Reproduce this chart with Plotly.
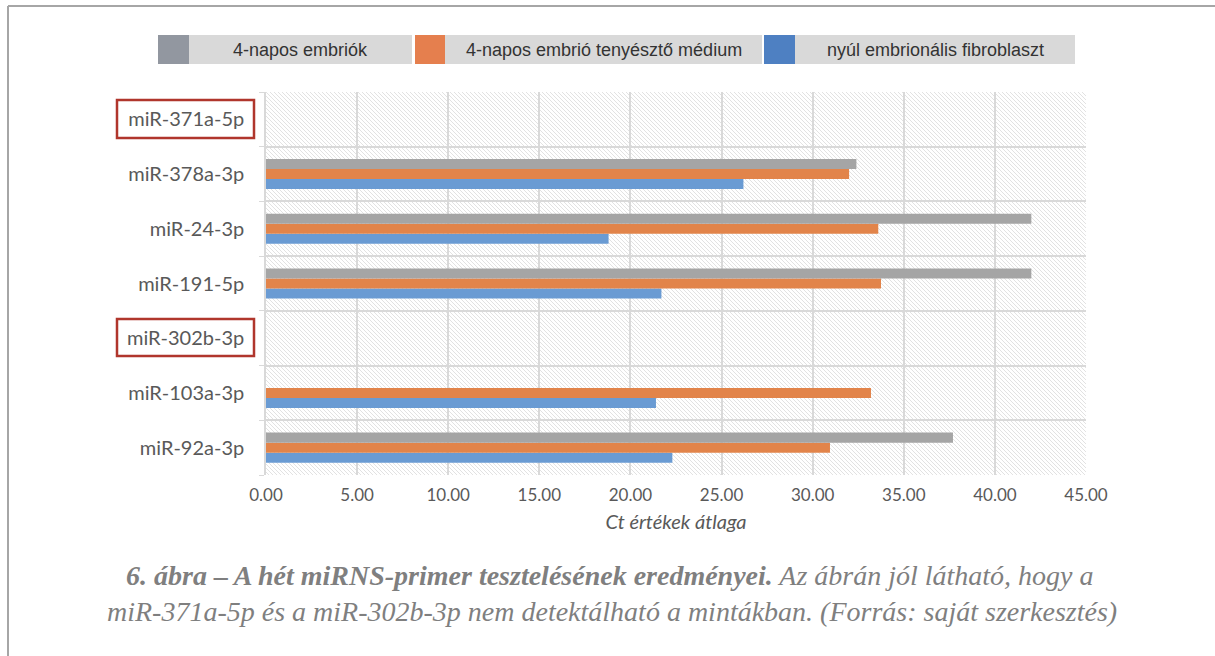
import base64
import plotly.graph_objects as go

# Primers, listed from the bottom row of the chart to the top row
primers = ["miR-92a-3p", "miR-103a-3p", "miR-302b-3p", "miR-191-5p",
           "miR-24-3p", "miR-378a-3p", "miR-371a-5p"]
not_detected = ["miR-371a-5p", "miR-302b-3p"]

series_names = ["4-napos embriók", "4-napos embrió tenyésztő médium",
                "nyúl embrionális fibroblaszt"]

# Mean Ct values per primer (None = not detected)
ct_embryo = [37.7, None, None, 42.0, 42.0, 32.4, None]
ct_medium = [30.95, 33.2, None, 33.75, 33.6, 32.0, None]
ct_fibroblast = [22.3, 21.4, None, 21.7, 18.8, 26.2, None]

x_ticks = [0, 5, 10, 15, 20, 25, 30, 35, 40, 45]
x_title = "Ct értékek átlaga"
caption_bold = "6. ábra – A hét miRNS-primer tesztelésének eredményei."
caption_rest1 = " Az ábrán jól látható, hogy a"
caption_line2 = ("miR-371a-5p és a miR-302b-3p nem detektálható a mintákban. "
                 "(Forrás: saját szerkesztés)")

W, H = 1215, 656
L, R, T, B = 266, 1086, 92, 475   # plot area in pixels

bar_colors = {"embryo": "#A5A5A5", "medium": "#E2844A", "fibro": "#6A9BD3"}
legend_colors = ["#9297A0", "#E57F4E", "#4E80C2"]


def px(x):
    return (x - L) / (R - L)


def py(y):
    return (B - y) / (B - T)


fig = go.Figure()
# blue drawn first so it sits at the bottom of each group, gray on top
for vals, key, name in [(ct_fibroblast, "fibro", series_names[2]),
                        (ct_medium, "medium", series_names[1]),
                        (ct_embryo, "embryo", series_names[0])]:
    fig.add_trace(go.Bar(
        y=primers, x=vals, orientation="h", name=name,
        marker=dict(color=bar_colors[key], line=dict(width=0)),
        showlegend=False,
    ))

# hatched plot background
pw, ph = R - L, B - T
svg = (f'<svg xmlns="http://www.w3.org/2000/svg" width="{pw}" height="{ph}">'
       '<defs><pattern id="h" patternUnits="userSpaceOnUse" width="4" height="4">'
       '<path d="M-1,-1 L5,5 M-1,3 L1,5 M3,-1 L5,1" stroke="#E2E2E2" stroke-width="1"/>'
       '</pattern></defs>'
       f'<rect width="{pw}" height="{ph}" fill="white"/>'
       f'<rect width="{pw}" height="{ph}" fill="url(#h)"/></svg>')
src = "data:image/svg+xml;base64," + base64.b64encode(svg.encode()).decode()
fig.add_layout_image(dict(source=src, xref="paper", yref="paper", x=0, y=1,
                          sizex=1, sizey=1, xanchor="left", yanchor="top",
                          sizing="stretch", layer="below"))

shapes = []
annotations = []

# custom legend: coloured square + grey label box
legend_boxes = [(158, 189, 412), (415, 445, 762), (764, 795, 1075)]
for (x0, x1, x2), col, name in zip(legend_boxes, legend_colors, series_names):
    shapes.append(dict(type="rect", xref="paper", yref="paper",
                       x0=px(x0), x1=px(x1), y0=py(64), y1=py(35),
                       fillcolor=col, line=dict(width=0)))
    shapes.append(dict(type="rect", xref="paper", yref="paper",
                       x0=px(x1), x1=px(x2), y0=py(64), y1=py(35),
                       fillcolor="#D9D9D9", line=dict(width=0)))
    annotations.append(dict(text=name, xref="paper", yref="paper",
                            x=px((x1 + x2) / 2), y=py(49.5), showarrow=False,
                            xanchor="center", yanchor="middle",
                            font=dict(family="Liberation Sans", size=18, color="#333333")))

# red frames around the primers that gave no signal
frame_y = {"miR-371a-5p": (100, 138), "miR-302b-3p": (319, 356)}
for p in not_detected:
    y0, y1 = frame_y[p]
    shapes.append(dict(type="rect", xref="paper", yref="paper",
                       x0=px(117), x1=px(254), y0=py(y1), y1=py(y0),
                       line=dict(color="#B0362C", width=2.5)))

# page frame (top and left edges)
shapes.append(dict(type="line", xref="paper", yref="paper",
                   x0=px(8), x1=px(1216), y0=py(6), y1=py(6),
                   line=dict(color="#A6A6A6", width=2)))
shapes.append(dict(type="line", xref="paper", yref="paper",
                   x0=px(8), x1=px(8), y0=py(6), y1=py(660),
                   line=dict(color="#A6A6A6", width=2)))

# figure caption
cap_font = dict(family="Liberation Serif", size=28, color="#7F7F7F")
annotations.append(dict(text=f"<b><i>{caption_bold}</i></b><i>{caption_rest1}</i>",
                        xref="paper", yref="paper", x=px(610), y=py(575),
                        showarrow=False, xanchor="center", yanchor="middle",
                        font=cap_font))
annotations.append(dict(text=f"<i>{caption_line2}</i>",
                        xref="paper", yref="paper", x=px(612), y=py(611),
                        showarrow=False, xanchor="center", yanchor="middle",
                        font=cap_font))

fig.update_layout(
    width=W, height=H,
    margin=dict(l=L, r=W - R, t=T, b=H - B, pad=0),
    paper_bgcolor="white", plot_bgcolor="rgba(0,0,0,0)",
    barmode="group", bargap=0.45, bargroupgap=0,
    shapes=shapes, annotations=annotations,
    showlegend=False,
    xaxis=dict(range=[0, 45], tickvals=x_ticks, tickformat=".2f",
               showgrid=True, gridcolor="#D9D9D9", gridwidth=1.5,
               zeroline=False, showline=False, ticks="",
               ticklabelstandoff=8,
               tickfont=dict(family="Lato", size=17, color="#595959"),
               title=dict(text=f"<i>{x_title}</i>", standoff=10,
                          font=dict(family="Lato", size=20, color="#595959"))),
    yaxis=dict(type="category", categoryorder="array", categoryarray=primers,
               tickson="boundaries", showgrid=True, gridcolor="#D9D9D9", gridwidth=1.5,
               showline=True, linecolor="#D9D9D9", linewidth=1.5,
               ticks="outside", ticklen=5, tickcolor="#D9D9D9",
               tickfont=dict(family="Lato", size=20, color="#595959"),
               ticklabelstandoff=16),
)

fig.write_html("out.html")
